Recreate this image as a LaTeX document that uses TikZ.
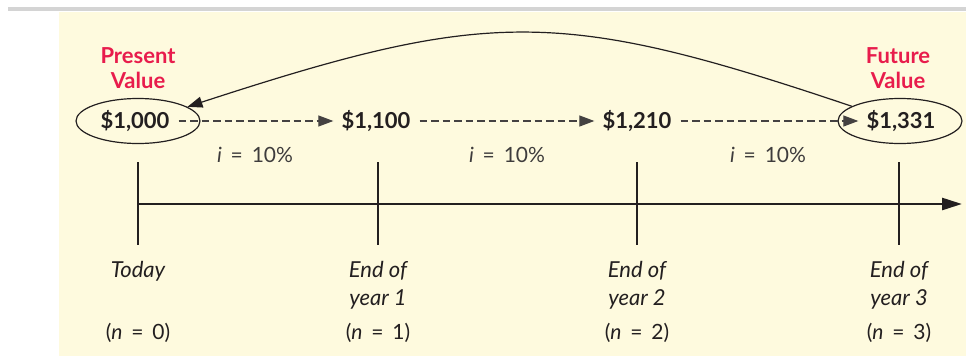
\documentclass[tikz,border=0pt]{standalone}
\usepackage{fontspec}
\setmainfont{Lato}
\usetikzlibrary{positioning,arrows.meta,shapes.geometric}

\definecolor{cream}{RGB}{254,250,222}
\definecolor{barg}{RGB}{212,212,212}
\definecolor{ink}{RGB}{35,31,32}
\definecolor{rate}{RGB}{62,60,60}
\definecolor{hot}{RGB}{232,28,76}

\begin{document}
\begin{tikzpicture}[x=1pt, y=-1pt,
    amount/.style={font=\fontsize{22}{26}\selectfont\bfseries, text=ink, inner sep=4pt},
    ring/.style={ellipse, draw=ink, line width=1.2pt, minimum width=124pt,
      minimum height=45pt, inner sep=0pt},
    tag/.style={font=\fontsize{22}{25}\selectfont\bfseries, text=hot, align=center},
    growth/.style={draw=ink!85, line width=1.2pt, dash pattern=on 7.5pt off 4pt,
      -{Triangle[length=15pt, width=11pt]}, shorten <=5pt, shorten >=4pt},
    ratelab/.style={font=\fontsize{21}{24}\selectfont, text=rate},
    when/.style={font=\fontsize{22}{28}\selectfont\itshape, text=ink, align=center,
      anchor=north, inner sep=0pt},
    period/.style={font=\fontsize{21}{24}\selectfont, text=ink}]
    \useasboundingbox (0,0) rectangle (966,356);
    % backdrop
    \fill[barg]  (8,7)   rectangle (966,11);
    \fill[cream] (59,12) rectangle (966,356);

    % amounts on the line
    \node[amount] (v0) at (135,121) {\$1,000};
    \node[amount] (v1) at (376,121) {\$1,100};
    \node[amount] (v2) at (637,121) {\$1,210};
    \node[amount] (v3) at (901,121) {\$1,331};
    \node[ring] (pv) at (138,121) {};
    \node[ring] (fv) at (900,121) {};
    \node[tag] (pvlab) at (138,68) {Present\\Value};
    \node[tag] (fvlab) at (898,68) {Future\\Value};

    \draw[growth] (v0) -- (v1);
    \draw[growth] (v1) -- (v2);
    \draw[growth] (v2) -- (v3);
    \node[ratelab] (r1) at (255,155) {\textit{i}\, = \,10\%};
    \node[ratelab] (r2) at (507,155) {\textit{i}\, = \,10\%};
    \node[ratelab] (r3) at (768,155) {\textit{i}\, = \,10\%};

    % back to today
    \draw[ink, line width=1.2pt, -{Triangle[length=15pt, width=11pt]}]
      (fv.163) .. controls (560,8) and (490,8) .. (pv.16);

    % time line
    \foreach \x/\n in {138/0,378/1,637/2,899/3}{
      \coordinate (t\n) at (\x,204);
      \draw[ink, line width=1.2pt] (\x,162) -- (\x,245);
      \node[period] (n\n) at (\x,333) {(\textit{n}\, = \,\n)};
    }
    \coordinate (tend) at (962,204);
    \draw[ink, line width=2.6pt, -{Triangle[length=20pt, width=12pt]}] (t0) -- (tend);

    \node[when] (w0) at (138,261) {Today};
    \node[when] (w1) at (378,261) {End of\\year 1};
    \node[when] (w2) at (637,261) {End of\\year 2};
    \node[when] (w3) at (899,261) {End of\\year 3};
  \end{tikzpicture}
\end{document}
